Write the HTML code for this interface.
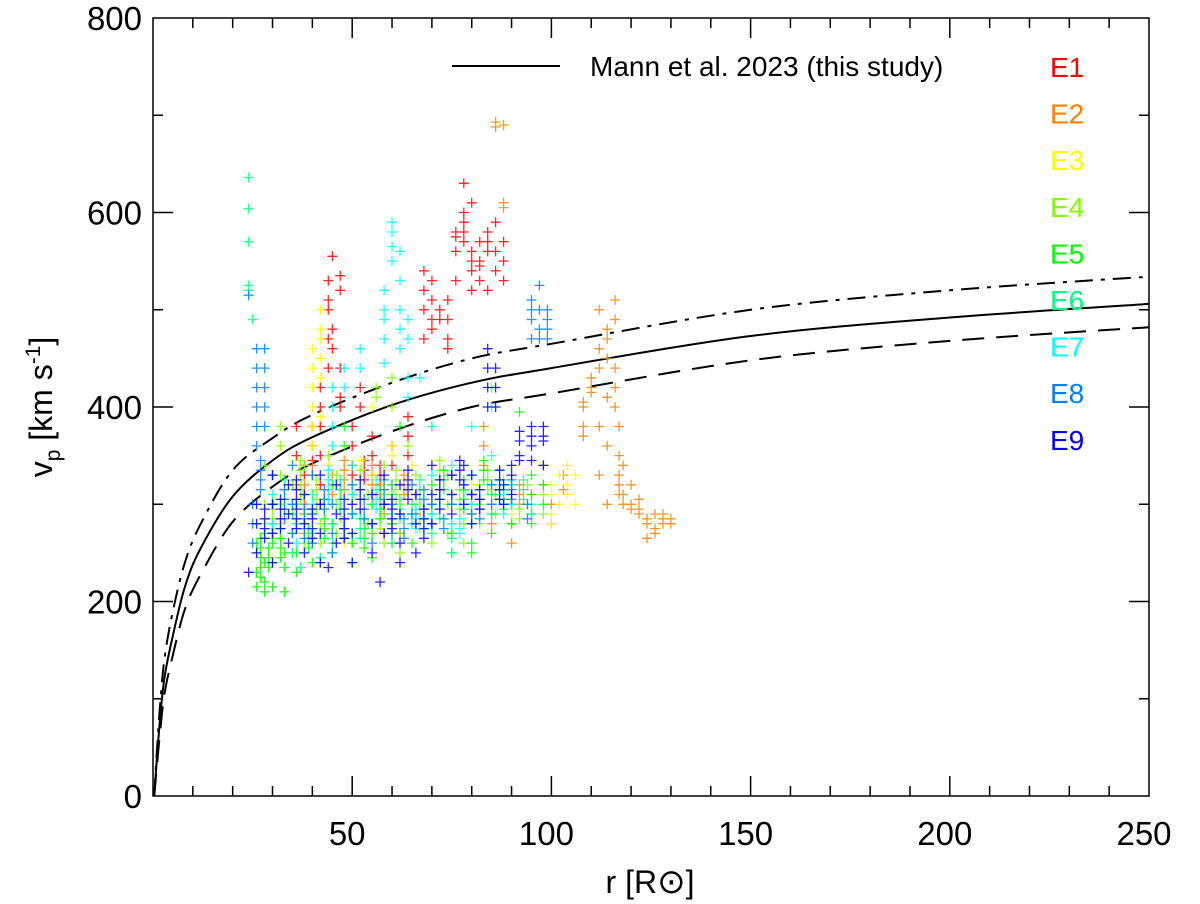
<!DOCTYPE html>
<html><head><meta charset="utf-8"><style>
body{margin:0;background:#fff}
svg{display:block;font-family:"Liberation Sans",sans-serif}
</style></head><body>
<svg id="chart" width="1200" height="904">
<g id="curves"></g>
<g id="points"></g>
<g id="axes"></g>
<g id="legend">
<line x1="452" y1="66" x2="560" y2="66" stroke="#000" stroke-width="2"/>
<text x="590" y="76" font-size="28">Mann et al. 2023 (this study)</text>
</g>
<text x="650" y="893" font-size="32" text-anchor="middle">r [R<tspan font-size="34">⊙</tspan>]</text>
<text transform="translate(52,407) rotate(-90)" font-size="32" text-anchor="middle">v<tspan font-size="21" dy="8">p</tspan><tspan dy="-8"> [km s</tspan><tspan font-size="21" dy="-12">-1</tspan><tspan dy="12">]</tspan></text>
</svg>
<script>
const xTicks=[50,100,150,200,250];
const yTicks=[0,200,400,600,800];
const curveR=[0.3,1,2,3,5,8,12,20,30,40,60,80,100,150,200,250];
const solidV=[0,40,90,125,165,215,255,308,345,369,402,425,440,473,492,506];
const upperV=[0,48,105,145,190,240,280,335,368,392,425,450,465,500,520,534];
const lowerV=[0,32,75,108,145,192,228,282,318,342,375,400,414,448,468,482];
const events=["E1","E2","E3","E4","E5","E6","E7","E8","E9"];
const colors=["#ff0000","#ff8000","#ffff00","#80ff00","#00ff00","#00ff80","#00ffff","#0080ff","#0000ff"];
const e1="40:330 345 360 380|42:300 320 350 380 400 420|44:440 470 500 510 530|45:555 480 460|47:520 535 400 410 440|50:380 360 340 330|55:370 350 330|60:360 340 320|64:390 370 350|68:540 520 500 470|70:530 510 490 480|72:500 490|74:510 490 470 460|76:575 560 580 530|78:600 570 580 590 630|80:610 560 550 540 520|82:570 550 530 545|84:580 570 560 520|86:590 560 540|88:570 550 530|36:380 350 320|52:420 400|58:300 290 270|66:310 290|75:330 310 300|90:320 300|62:290 270|38:340 330 310 300 290|53:345 335 325|57:340 330 320 310";
const e2="86:693 688|88:690 610 605|83:380 360 340|85:320 300 280|90:300 280 260|95:310 290|98:340 320|100:300 280|103:330 315|108:400 405 380 370|110:430 420 415|112:460 440 500 380 330|114:480 470 450 410 360 300|116:510 490 440 420 400|117:380 350 330 320 310|118:300 310 340|120:320 300 295|122:305 295 290|124:285 280 265|126:290 275 270|128:290 280 285|130:285 280|38:320 290 270 310 300|40:380 360 340|45:330 310|55:340 320 300 280|60:300 280|70:380 300|75:270|80:310 290|48:345 335 325 315|63:330 320 310|72:325 315 305|92:320 310 300";
const e3="40:360 380 400 420 440 460|42:480 500 450 430 470 390|44:350 340 330|50:310 300|55:400 330|60:360 350|65:300 290 340|70:330 310|80:320 300|90:310 290|95:290 280 300|100:320 310 290 280|102:330 300|104:340 320 310|106:330 300|48:260|75:270|52:345 335 325|58:320 310|86:315 305";
const e4="28:270 280 300 340|32:380 360 330 300 280|35:320 300 270 250|38:340 310 290 260|42:280 260 240|46:330 300 270|50:320 290 260 240|54:310 280|58:340 310 290 260|62:300 270 250|66:330 300 280|70:310 290 260|74:330 300 270|78:280 260|82:320 300 280|86:310 290|90:300 280|94:320 300|98:340 310 290|56:410 420|60:430 400|44:350|64:360|30:295 285 275 265|37:345 335 325 315 305|41:325 315 305 295|47:315 305 295 285|52:335 325 315 305|57:295 285 275|61:335 325 315 305|67:295 285 275|72:345 335 325|77:315 305 295|84:335 325 315|88:325 315 305|92:295 285";
const e5="26:260 250 230 215|28:270 240 220 210|30:300 280 260 240 215|33:250 235 210|36:300 280 250 230|40:290 260 240|45:320 280 250|50:260 240|55:300 270 245|60:310 280 260|65:290 260|70:320 300 280|75:300 270 250|80:330 310 290 260 250|85:310 290 270|90:300 280|95:330 310 290|98:320 300|48:380 360|62:380|92:395|27:265 255 245 235 225|29:255 245 235|32:275 265 255 245|39:275 265 255|43:305 295 285 275 265|53:285 275 265 255|57:315 305 295 285|68:305 295 285 275|73:335 325 315|78:325 315 305 295|83:345 335 325|88:315 305 295";
const e6="24:636 604 570 525 520|25:490|30:330 300 280|35:290 270 250|40:310 290 270|45:280 260|50:310 290 270|55:300 280|60:320 290 260|65:300 280|70:290 270|75:280 265 250|80:300 280|85:310 290|90:320 300|95:290 280|37:235|42:245|33:325 315 305 295|47:325 315 305 295|52:285 275 265|62:305 295 285|67:325 315 305|72:305 295 285|78:315 305 295|87:335 325 315 305|93:325 315 305";
const e7="50:290 310 340|52:440 460|58:520 500 490 470 445|60:590 580 565 550|62:560 530 500 480 460|64:490 470 430 410|67:430|45:420 400 380 360|48:440 420|70:380 330 290|75:340 310 280|80:380 330 300|85:400 420 350 320|90:320 300|95:300 290|30:310 280|36:300 280 260|40:300 270|44:335 325 315 305|56:325 315 305 295|66:295 285 275|77:285 275 270|88:310 300 290";
const e8="24:515|26:460 440 420 400 380 360|28:460 440 420 400 380|25:300 280 260|30:330 300 270|35:340 300 270|40:330 290 260|45:300 270 250|50:320 290|55:310 280 260|60:300 270|65:320 290|70:300 280|75:330 300|80:310 290|85:320 300|95:510 500 490 470|97:525 500 480 470|99:500 490 480 470|94:300 285|27:345 335 325 315|33:315 305 295 285|38:295 285 275 265|43:315 305 295|48:285 275 265|53:305 295 285|58:325 315 305|63:285 275 265|68:315 305 295|73:285 275|82:305 295 285|90:325 315 305";
const e9="24:230|26:300 280 250|30:330 300 270 240|34:320 290 260|38:310 280 250|42:330 300 270 240|46:320 290 260|50:300 270 240|55:310 280 250|58:330 300 270|62:320 290 260 240|66:310 280 250|70:340 310 280|75:330 310 290|78:340 320 300|80:330 310 280|84:460 440 420 400|86:440 420 400|88:320 300|90:340 330 310|92:375 365 350 345|95:380 370 360 345|98:380 370 365 340|57:220|44:235|28:295 285 275 265|32:305 295 285 275|36:325 315 305 295 285 275|40:295 285 275 265|48:305 295 285 275 265|52:325 315 305 295|60:305 295 285 275|64:335 325 315 305|68:295 285 275 265|72:325 315 305 295|77:345 335 325|82:315 305 295|87:335 325 315 305";
const eventData=[e1,e2,e3,e4,e5,e6,e7,e8,e9];

const NS="http://www.w3.org/2000/svg";
const L=153,R=1149,T=18,B=796;
const xs=r=>L+(r/250)*(R-L);
const ys=v=>B-(v/800)*(B-T);
function mk(tag,attrs,parent){const e=document.createElementNS(NS,tag);for(const k in attrs)e.setAttribute(k,attrs[k]);parent.appendChild(e);return e;}
function smoothPath(pts){
  let d=`M${pts[0][0].toFixed(1)},${pts[0][1].toFixed(1)}`;
  for(let i=0;i<pts.length-1;i++){
    const p0=pts[i-1]||pts[i],p1=pts[i],p2=pts[i+1],p3=pts[i+2]||p2;
    const c1=[p1[0]+(p2[0]-p0[0])/6,p1[1]+(p2[1]-p0[1])/6];
    const c2=[p2[0]-(p3[0]-p1[0])/6,p2[1]-(p3[1]-p1[1])/6];
    d+=`C${c1[0].toFixed(1)},${c1[1].toFixed(1)} ${c2[0].toFixed(1)},${c2[1].toFixed(1)} ${p2[0].toFixed(1)},${p2[1].toFixed(1)}`;
  }
  return d;
}

const cg=document.getElementById('curves');
[[solidV,"none","model-curve-solid"],[upperV,"18 8 4 8","model-curve-upper"],[lowerV,"22 12","model-curve-lower"]].forEach(([vals,dash,name])=>{
  const pts=curveR.map((r,i)=>[xs(r),ys(vals[i])]);
  const p=mk('path',{d:smoothPath(pts),fill:'none',stroke:'#000','stroke-width':2,'stroke-dasharray':dash},cg);
  
  
});

const pg=document.getElementById('points');
eventData.forEach((str,i)=>{
  const g=mk('g',{stroke:colors[i],'stroke-width':1.3,opacity:0.85},pg);
  
  
  let d='';
  str.split('|').forEach(col=>{
    const [r,vs]=col.split(':');
    vs.trim().split(/\s+/).forEach(v=>{
      const x=xs(+r),y=ys(+v);
      d+=`M${(x-5).toFixed(1)},${y.toFixed(1)}h10M${x.toFixed(1)},${(y-5).toFixed(1)}v10`;
    });
  });
  const p=mk('path',{d:d,fill:'none'},g);
  
  
});

const ag=document.getElementById('axes');
const box=mk('rect',{x:L,y:T,width:R-L,height:B-T,fill:'none',stroke:'#000','stroke-width':1.5},ag);


let td='';
for(let r=10;r<250;r+=10){const x=xs(r);const len=(r%50===0)?20:10;td+=`M${x},${B}v${-len}M${x},${T}v${len}`;}
for(let v=100;v<800;v+=100){const y=ys(v);const len=(v%200===0)?20:10;td+=`M${L},${y}h${len}M${R},${y}h${-len}`;}
const tp=mk('path',{d:td,stroke:'#000','stroke-width':1.5},ag);


xTicks.forEach(t=>{
  const e=mk('text',{x:xs(t)-5,y:845,'font-size':33,'text-anchor':'middle'},ag);
  e.textContent=t;
  
  
});
yTicks.forEach(t=>{
  const e=mk('text',{x:142,y:ys(t)+12,'font-size':33,'text-anchor':'end'},ag);
  e.textContent=t;
  
  
});

const lg=document.getElementById('legend');
events.forEach((ev,i)=>{
  const e=mk('text',{x:1050,y:77+i*46.6,'font-size':28,fill:colors[i]},lg);
  e.textContent=ev;
  
  
});
</script>
</body></html>
